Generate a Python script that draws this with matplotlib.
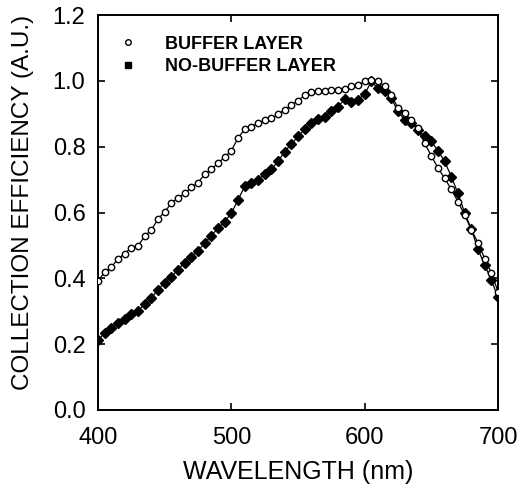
import matplotlib
matplotlib.use("Agg")
import matplotlib.pyplot as plt
from matplotlib.lines import Line2D

plt.rcParams['font.family'] = ['Liberation Sans', 'DejaVu Sans']

wavelength = list(range(400, 701, 5))

buffer_layer = [
    0.393, 0.418, 0.434, 0.459, 0.475, 0.493, 0.498, 0.528, 0.547, 0.580,
    0.602, 0.628, 0.645, 0.658, 0.676, 0.691, 0.716, 0.731, 0.750, 0.768,
    0.788, 0.826, 0.853, 0.861, 0.871, 0.881, 0.886, 0.898, 0.912, 0.927,
    0.939, 0.957, 0.965, 0.968, 0.970, 0.971, 0.973, 0.975, 0.983, 0.988,
    0.998, 1.002, 1.000, 0.983, 0.957, 0.917, 0.902, 0.881, 0.856, 0.810,
    0.772, 0.735, 0.704, 0.670, 0.633, 0.592, 0.548, 0.508, 0.460, 0.416,
    0.360,
]

no_buffer_layer = [
    0.213, 0.233, 0.248, 0.263, 0.276, 0.291, 0.302, 0.321, 0.341, 0.365,
    0.387, 0.405, 0.426, 0.448, 0.466, 0.484, 0.507, 0.530, 0.552, 0.572,
    0.598, 0.638, 0.679, 0.689, 0.699, 0.717, 0.731, 0.755, 0.785, 0.808,
    0.831, 0.853, 0.873, 0.883, 0.889, 0.909, 0.922, 0.944, 0.937, 0.942,
    0.960, 0.998, 0.978, 0.968, 0.947, 0.907, 0.881, 0.871, 0.851, 0.831,
    0.816, 0.788, 0.755, 0.709, 0.658, 0.599, 0.549, 0.488, 0.441, 0.395,
    0.342,
]

x_ticks = [400, 500, 600, 700]
y_ticks = [0.0, 0.2, 0.4, 0.6, 0.8, 1.0, 1.2]

fig = plt.figure(figsize=(5.2, 4.95), dpi=100)
ax = fig.add_axes([98 / 520, 1 - 410 / 495, 400 / 520, 395 / 495])

ax.plot(wavelength, no_buffer_layer, color='black', lw=0.9, marker='D',
        ms=4.8, mfc='black', mec='black', zorder=2)
ax.plot(wavelength, buffer_layer, color='black', lw=0.9, marker='o',
        ms=4.6, mfc='white', mec='black', mew=1.0, zorder=3)

ax.set_xlim(400, 700)
ax.set_ylim(0.0, 1.2)
ax.set_xticks(x_ticks)
ax.set_yticks(y_ticks)
ax.set_yticklabels([f"{v:.1f}" for v in y_ticks])
ax.tick_params(direction='in', length=5, width=1.2, top=True, right=True,
               labelsize=17)
ax.tick_params(axis='x', pad=12)
ax.tick_params(axis='y', pad=9)
for s in ax.spines.values():
    s.set_linewidth(1.4)

ax.set_xlabel("WAVELENGTH (nm)", fontsize=18, labelpad=8)
ax.set_ylabel("COLLECTION EFFICIENCY (A.U.)", fontsize=17.5)
ax.yaxis.set_label_coords(-0.16, 0.525)

handles = [
    Line2D([], [], ls='none', marker='o', ms=4, mfc='white', mec='black'),
    Line2D([], [], ls='none', marker='s', ms=4, mfc='black', mec='black'),
]
ax.legend(handles, ["BUFFER LAYER", "NO-BUFFER LAYER"], loc='upper left',
          frameon=False, handlelength=1.0, handletextpad=1.55,
          borderaxespad=0.75, labelspacing=0.3,
          prop={'weight': 'bold', 'size': 13})

fig.savefig("out.png", dpi=100)
